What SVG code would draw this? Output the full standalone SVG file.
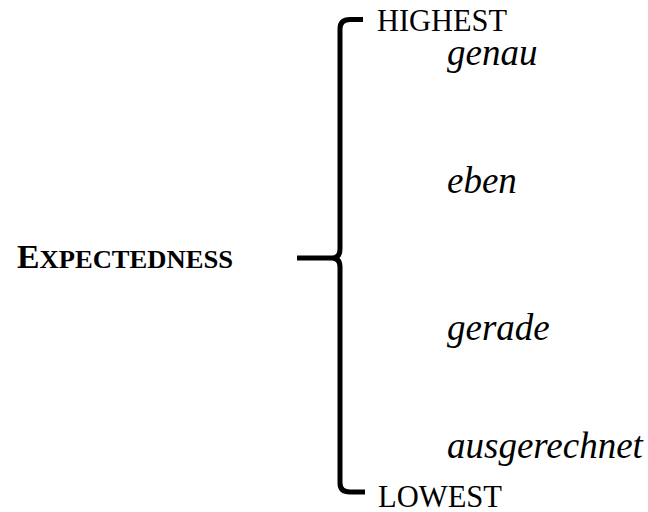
<svg xmlns="http://www.w3.org/2000/svg" width="648" height="512" viewBox="0 0 648 512">
  <style>
    .bar { fill: none; stroke: #000; stroke-width: 5; stroke-linecap: butt; stroke-linejoin: round; }
    .cap { font-family: "Liberation Serif", "Times New Roman", serif; fill: #000; }
    .lvl { font-size: 31px; }
    .word { font-family: "Liberation Serif", "Times New Roman", serif; font-style: italic; font-size: 37px; fill: #000; }
    .title { font-weight: bold; }
  </style>
  <rect width="648" height="512" fill="#fff"/>

  <g id="scale-title">
    <text class="cap title" x="17" y="268" textLength="216" lengthAdjust="spacingAndGlyphs"><tspan font-size="33">E</tspan><tspan font-size="26">XPECTEDNESS</tspan></text>
  </g>

  <g id="connectors">
    <!-- curly brace: top hook, tip toward the title, bottom hook -->
    <path class="bar" d="M363,19.5 L350,19.5 Q340,19.5 340,29 L340,249 Q340,258 332,258 L297,258 M332,258 Q340,258 340,267 L340,483 Q340,492 350,492 L365,492"/>
  </g>

  <g id="level-highest">
    <text class="cap lvl" x="377" y="31" textLength="130" lengthAdjust="spacingAndGlyphs">HIGHEST</text>
  </g>
  <g id="item-genau">
    <text class="word" x="447" y="65">genau</text>
  </g>
  <g id="item-eben">
    <text class="word" x="447" y="193">eben</text>
  </g>
  <g id="item-gerade">
    <text class="word" x="447" y="340">gerade</text>
  </g>
  <g id="item-ausgerechnet">
    <text class="word" x="447" y="458">ausgerechnet</text>
  </g>
  <g id="level-lowest">
    <text class="cap lvl" x="378" y="507" textLength="124" lengthAdjust="spacingAndGlyphs">LOWEST</text>
  </g>
</svg>
